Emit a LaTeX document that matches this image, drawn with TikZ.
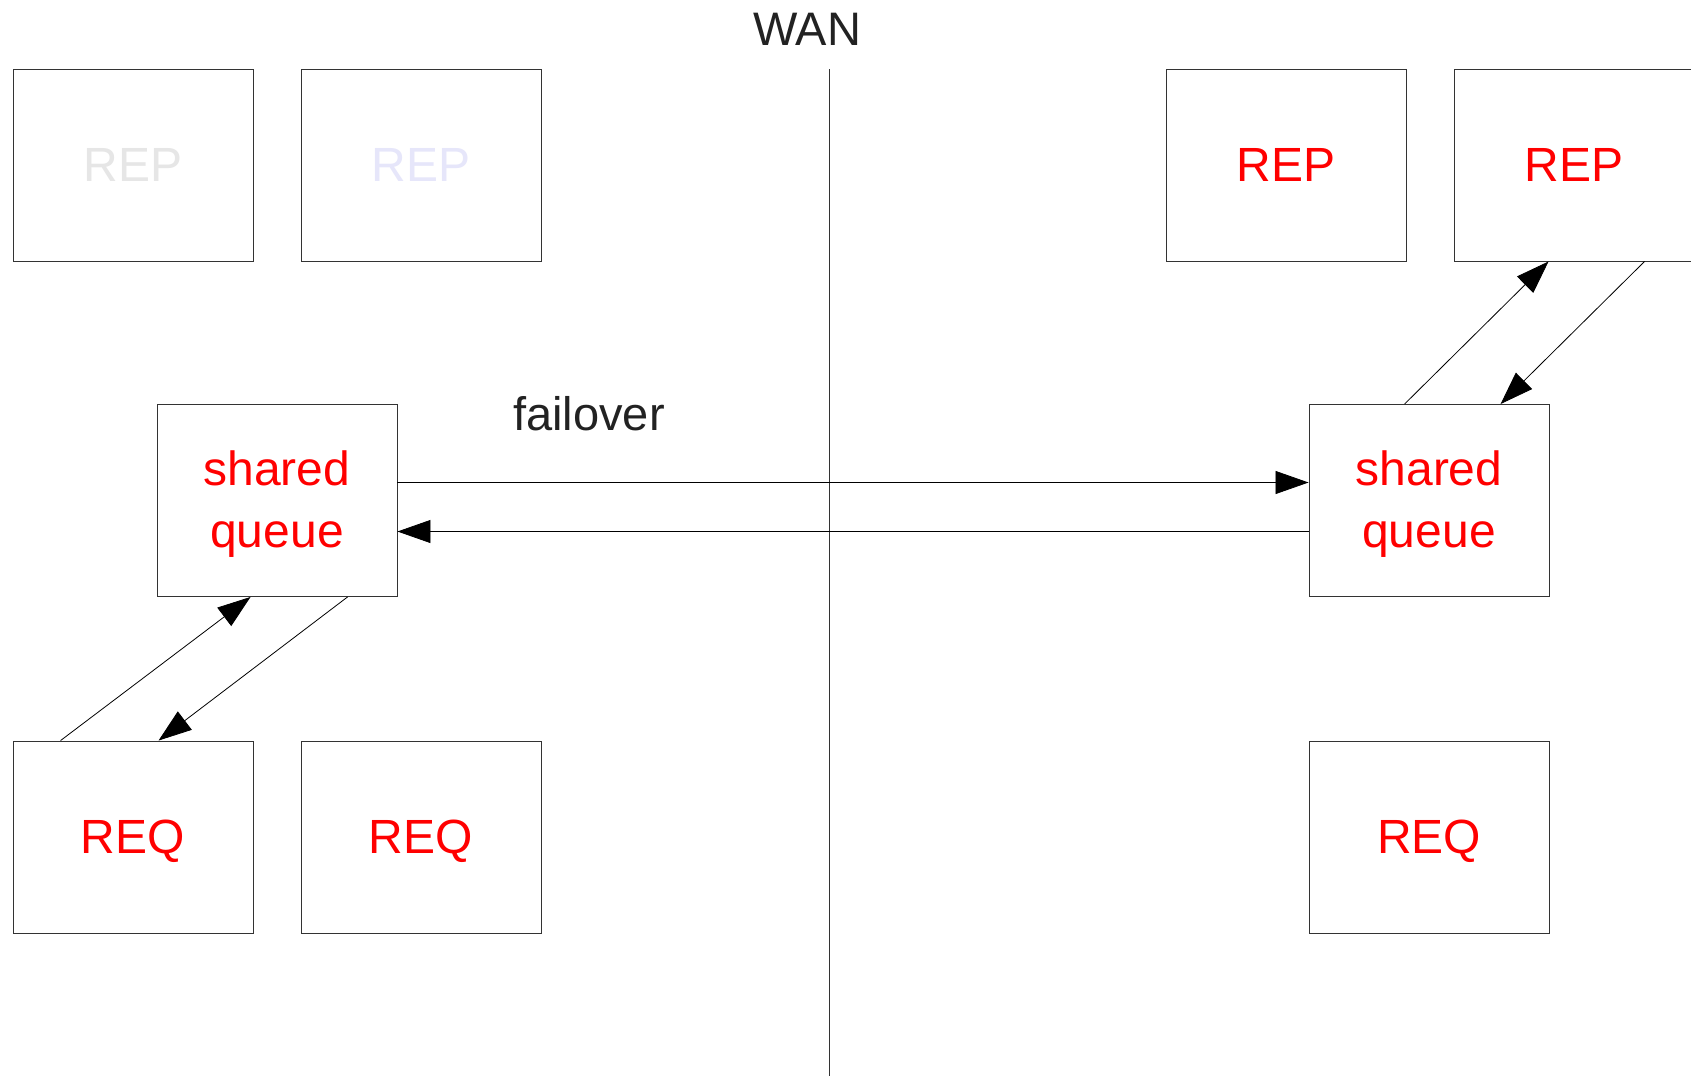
\documentclass[tikz,border=0pt]{standalone}
\usepackage{fontspec}
\setmainfont{Liberation Sans}
\usetikzlibrary{arrows.meta}
\definecolor{boxline}{HTML}{333333}
\definecolor{textdark}{HTML}{222222}
\definecolor{ghostgray}{HTML}{E6E6E6}
\definecolor{ghostblue}{HTML}{E6E6FA}
\begin{document}
\begin{tikzpicture}[x=1pt,y=-1pt,
  unit/.style={draw=boxline,line width=0.9pt,rectangle,inner sep=0pt,
    minimum width=240pt,minimum height=192pt,text=red,align=center,
    font=\fontsize{48}{59}\selectfont},
  queuebox/.style={unit,font=\fontsize{48}{62}\selectfont,text depth=3pt},
  reqbox/.style={unit,text depth=0pt},
  flow/.style={draw=black,line width=0.8pt,-{Triangle[length=33pt,width=23pt]}},
  label/.style={text=textdark,font=\fontsize{47}{54}\selectfont,inner sep=0pt}]
\useasboundingbox (0,0) rectangle (1691,1076);
\fill[white] (0,0) rectangle (1691,1076);

% WAN boundary
\coordinate (wantop) at (829,69);
\coordinate (wanbot) at (829,1076);
\draw[line width=0.9pt,boxline] (wantop) -- (wanbot);
\node[label] (wan) at (807,29) {WAN};

% left site
\node[unit,text=ghostgray] (repA) at (133,165) {REP};
\node[unit,text=ghostblue] (repB) at (421,165) {REP};
\node[queuebox] (sqL) at (277,500.5) {shared\\queue};
\node[reqbox] (reqA) at (133,837) {REQ};
\node[reqbox] (reqB) at (421,837) {REQ};

% right site
\node[unit] (repC) at (1286,165) {REP};
\node[unit] (repD) at (1574,165) {REP};
\node[queuebox] (sqR) at (1429,500.5) {shared\\queue};
\node[reqbox] (reqC) at (1429,837) {REQ};

\node[label] (fail) at (589,414) {failover};

% failover links across the WAN
\draw[flow] ([yshift=18pt]sqL.east) -- ([yshift=18pt]sqR.west);
\draw[flow] ([yshift=-31pt]sqR.west) -- ([yshift=-31pt]sqL.east);

% local request/reply links
\draw[flow] ([xshift=48pt]reqA.north west) -- ([xshift=94pt]sqL.south west);
\draw[flow] ([xshift=191pt]sqL.south west) -- ([xshift=146pt]reqA.north west);
\draw[flow] ([xshift=96pt]sqR.north west) -- ([xshift=95pt]repD.south west);
\draw[flow] ([xshift=191pt]repD.south west) -- ([xshift=192pt]sqR.north west);
\end{tikzpicture}
\end{document}
